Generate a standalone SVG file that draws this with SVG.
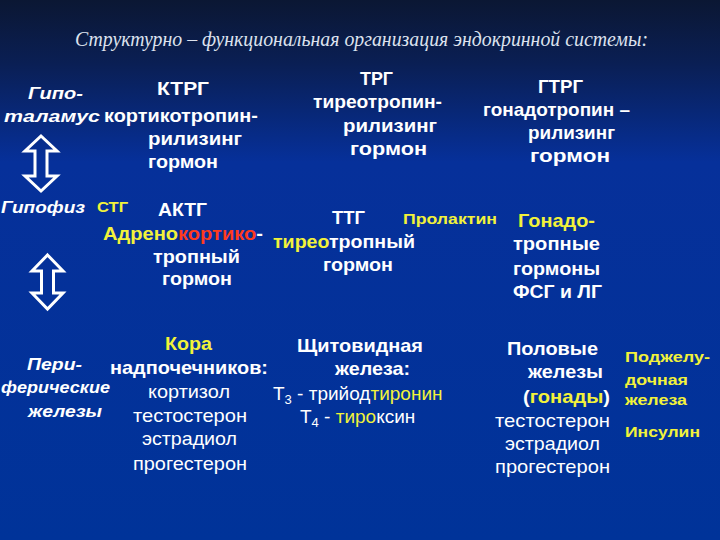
<svg xmlns="http://www.w3.org/2000/svg" width="720" height="540" viewBox="0 0 720 540">
<defs>
<linearGradient id="bg" x1="0" y1="0" x2="0" y2="1">
<stop offset="0" stop-color="#0b1733"/>
<stop offset="0.12" stop-color="#0a1f55"/>
<stop offset="0.3" stop-color="#06309a"/>
<stop offset="1" stop-color="#003399"/>
</linearGradient>
<style>
text{font-family:"Liberation Sans",Arial,sans-serif;fill:#ffffff}
.b{font-weight:bold;font-size:19px}
.s{font-weight:bold;font-size:15px}
.i{font-weight:bold;font-style:italic;font-size:17px}
.n{font-size:19px}
.y{fill:#f2f23a}
.r{fill:#ff3a1e}
.t{font-family:"Liberation Serif",serif;font-style:italic;font-size:21px;fill:#dde2ee}
.arrow{fill:none;stroke:#ffffff;stroke-width:3;stroke-linejoin:miter}
</style>
</defs>
<rect width="720" height="540" fill="url(#bg)"/>
<text class="t" x="75" y="46" textLength="573" lengthAdjust="spacingAndGlyphs">Структурно – функциональная организация эндокринной системы:</text>

<g id="connectors">
<path class="arrow" d="M41,136 L57,151 L47,151 L47,176 L57,176 L41,191 L25,176 L35,176 L35,151 L25,151 Z"/>
<path class="arrow" d="M47.5,255 L63,271 L53.5,271 L53.5,293 L63,293 L47.5,309 L32,293 L41.5,293 L41.5,271 L32,271 Z"/>
</g>

<g id="hypothalamus">
<text class="i" x="28" y="99" textLength="55" lengthAdjust="spacingAndGlyphs">Гипо-</text>
<text class="i" x="4" y="122" textLength="96" lengthAdjust="spacingAndGlyphs">таламус</text>
</g>
<g id="ktrg">
<text class="b" x="157" y="95" textLength="52" lengthAdjust="spacingAndGlyphs">КТРГ</text>
<text class="b" x="104" y="122" textLength="154" lengthAdjust="spacingAndGlyphs">кортикотропин-</text>
<text class="b" x="148" y="145" textLength="94" lengthAdjust="spacingAndGlyphs">рилизинг</text>
<text class="b" x="148" y="168" textLength="70" lengthAdjust="spacingAndGlyphs">гормон</text>
</g>
<g id="trg">
<text class="b" x="360" y="85" textLength="33" lengthAdjust="spacingAndGlyphs">ТРГ</text>
<text class="b" x="313" y="108" textLength="129" lengthAdjust="spacingAndGlyphs">тиреотропин-</text>
<text class="b" x="343" y="132" textLength="94" lengthAdjust="spacingAndGlyphs">рилизинг</text>
<text class="b" x="350" y="155" textLength="77" lengthAdjust="spacingAndGlyphs">гормон</text>
</g>
<g id="gtrg">
<text class="b" x="538" y="93" textLength="45" lengthAdjust="spacingAndGlyphs">ГТРГ</text>
<text class="b" x="483" y="116" textLength="147" lengthAdjust="spacingAndGlyphs">гонадотропин –</text>
<text class="b" x="528" y="139" textLength="87" lengthAdjust="spacingAndGlyphs">рилизинг</text>
<text class="b" x="530" y="162" textLength="80" lengthAdjust="spacingAndGlyphs">гормон</text>
</g>

<g id="hypophysis">
<text class="i" x="1" y="213" textLength="84" lengthAdjust="spacingAndGlyphs">Гипофиз</text>
</g>
<g id="stg">
<text class="s y" x="97" y="212" textLength="31" lengthAdjust="spacingAndGlyphs">СТГ</text>
</g>
<g id="aktg">
<text class="b" x="158" y="216" textLength="49" lengthAdjust="spacingAndGlyphs">АКТГ</text>
<text class="b" x="103" y="240" textLength="160" lengthAdjust="spacingAndGlyphs"><tspan class="y">Адрено</tspan><tspan class="r">кортико</tspan>-</text>
<text class="b" x="153" y="263" textLength="87" lengthAdjust="spacingAndGlyphs">тропный</text>
<text class="b" x="162" y="285" textLength="70" lengthAdjust="spacingAndGlyphs">гормон</text>
</g>
<g id="ttg">
<text class="b" x="332" y="224" textLength="33" lengthAdjust="spacingAndGlyphs">ТТГ</text>
<text class="b" x="273" y="248" textLength="142" lengthAdjust="spacingAndGlyphs"><tspan class="y">тирео</tspan>тропный</text>
<text class="b" x="323" y="271" textLength="70" lengthAdjust="spacingAndGlyphs">гормон</text>
</g>
<g id="prolactin">
<text class="s y" x="403" y="224" textLength="94" lengthAdjust="spacingAndGlyphs">Пролактин</text>
</g>
<g id="gonadotropins">
<text class="b y" x="518" y="227" textLength="77" lengthAdjust="spacingAndGlyphs">Гонадо-</text>
<text class="b" x="513" y="250" textLength="87" lengthAdjust="spacingAndGlyphs">тропные</text>
<text class="b" x="513" y="275" textLength="87" lengthAdjust="spacingAndGlyphs">гормоны</text>
<text class="b" x="513" y="298" textLength="89" lengthAdjust="spacingAndGlyphs">ФСГ и ЛГ</text>
</g>

<g id="peripheral">
<text class="i" x="27" y="370" textLength="55" lengthAdjust="spacingAndGlyphs">Пери-</text>
<text class="i" x="1" y="393" textLength="109" lengthAdjust="spacingAndGlyphs">ферические</text>
<text class="i" x="28" y="417" textLength="74" lengthAdjust="spacingAndGlyphs">железы</text>
</g>
<g id="adrenal">
<text class="b y" x="165" y="350" textLength="47" lengthAdjust="spacingAndGlyphs">Кора</text>
<text class="b" x="110" y="374" textLength="158" lengthAdjust="spacingAndGlyphs">надпочечников:</text>
<text class="n" x="148" y="398" textLength="82" lengthAdjust="spacingAndGlyphs">кортизол</text>
<text class="n" x="133" y="422" textLength="114" lengthAdjust="spacingAndGlyphs">тестостерон</text>
<text class="n" x="142" y="445" textLength="95" lengthAdjust="spacingAndGlyphs">эстрадиол</text>
<text class="n" x="133" y="470" textLength="114" lengthAdjust="spacingAndGlyphs">прогестерон</text>
</g>
<g id="thyroid">
<text class="b" x="297" y="352" textLength="126" lengthAdjust="spacingAndGlyphs">Щитовидная</text>
<text class="b" x="335" y="375" textLength="75" lengthAdjust="spacingAndGlyphs">железа:</text>
<text class="n" x="273" y="400">Т<tspan font-size="13" dy="4">3</tspan><tspan dy="-4"> - трийод</tspan><tspan class="y">тиронин</tspan></text>
<text class="n" x="300" y="423">Т<tspan font-size="13" dy="4">4</tspan><tspan dy="-4"> - </tspan><tspan class="y">тиро</tspan>ксин</text>
</g>
<g id="gonads">
<text class="b" x="507" y="355" textLength="91" lengthAdjust="spacingAndGlyphs">Половые</text>
<text class="b" x="528" y="378" textLength="75" lengthAdjust="spacingAndGlyphs">железы</text>
<text class="b" x="523" y="403" textLength="87" lengthAdjust="spacingAndGlyphs">(<tspan class="y">гонады</tspan>)</text>
<text class="n" x="495" y="427" textLength="115" lengthAdjust="spacingAndGlyphs">тестостерон</text>
<text class="n" x="505" y="450" textLength="95" lengthAdjust="spacingAndGlyphs">эстрадиол</text>
<text class="n" x="495" y="473" textLength="115" lengthAdjust="spacingAndGlyphs">прогестерон</text>
</g>
<g id="pancreas">
<text class="s y" x="625" y="362" textLength="85" lengthAdjust="spacingAndGlyphs">Поджелу-</text>
<text class="s y" x="625" y="385" textLength="63" lengthAdjust="spacingAndGlyphs">дочная</text>
<text class="s y" x="625" y="405" textLength="62" lengthAdjust="spacingAndGlyphs">железа</text>
<text class="s y" x="625" y="437" textLength="75" lengthAdjust="spacingAndGlyphs">Инсулин</text>
</g>
</svg>
